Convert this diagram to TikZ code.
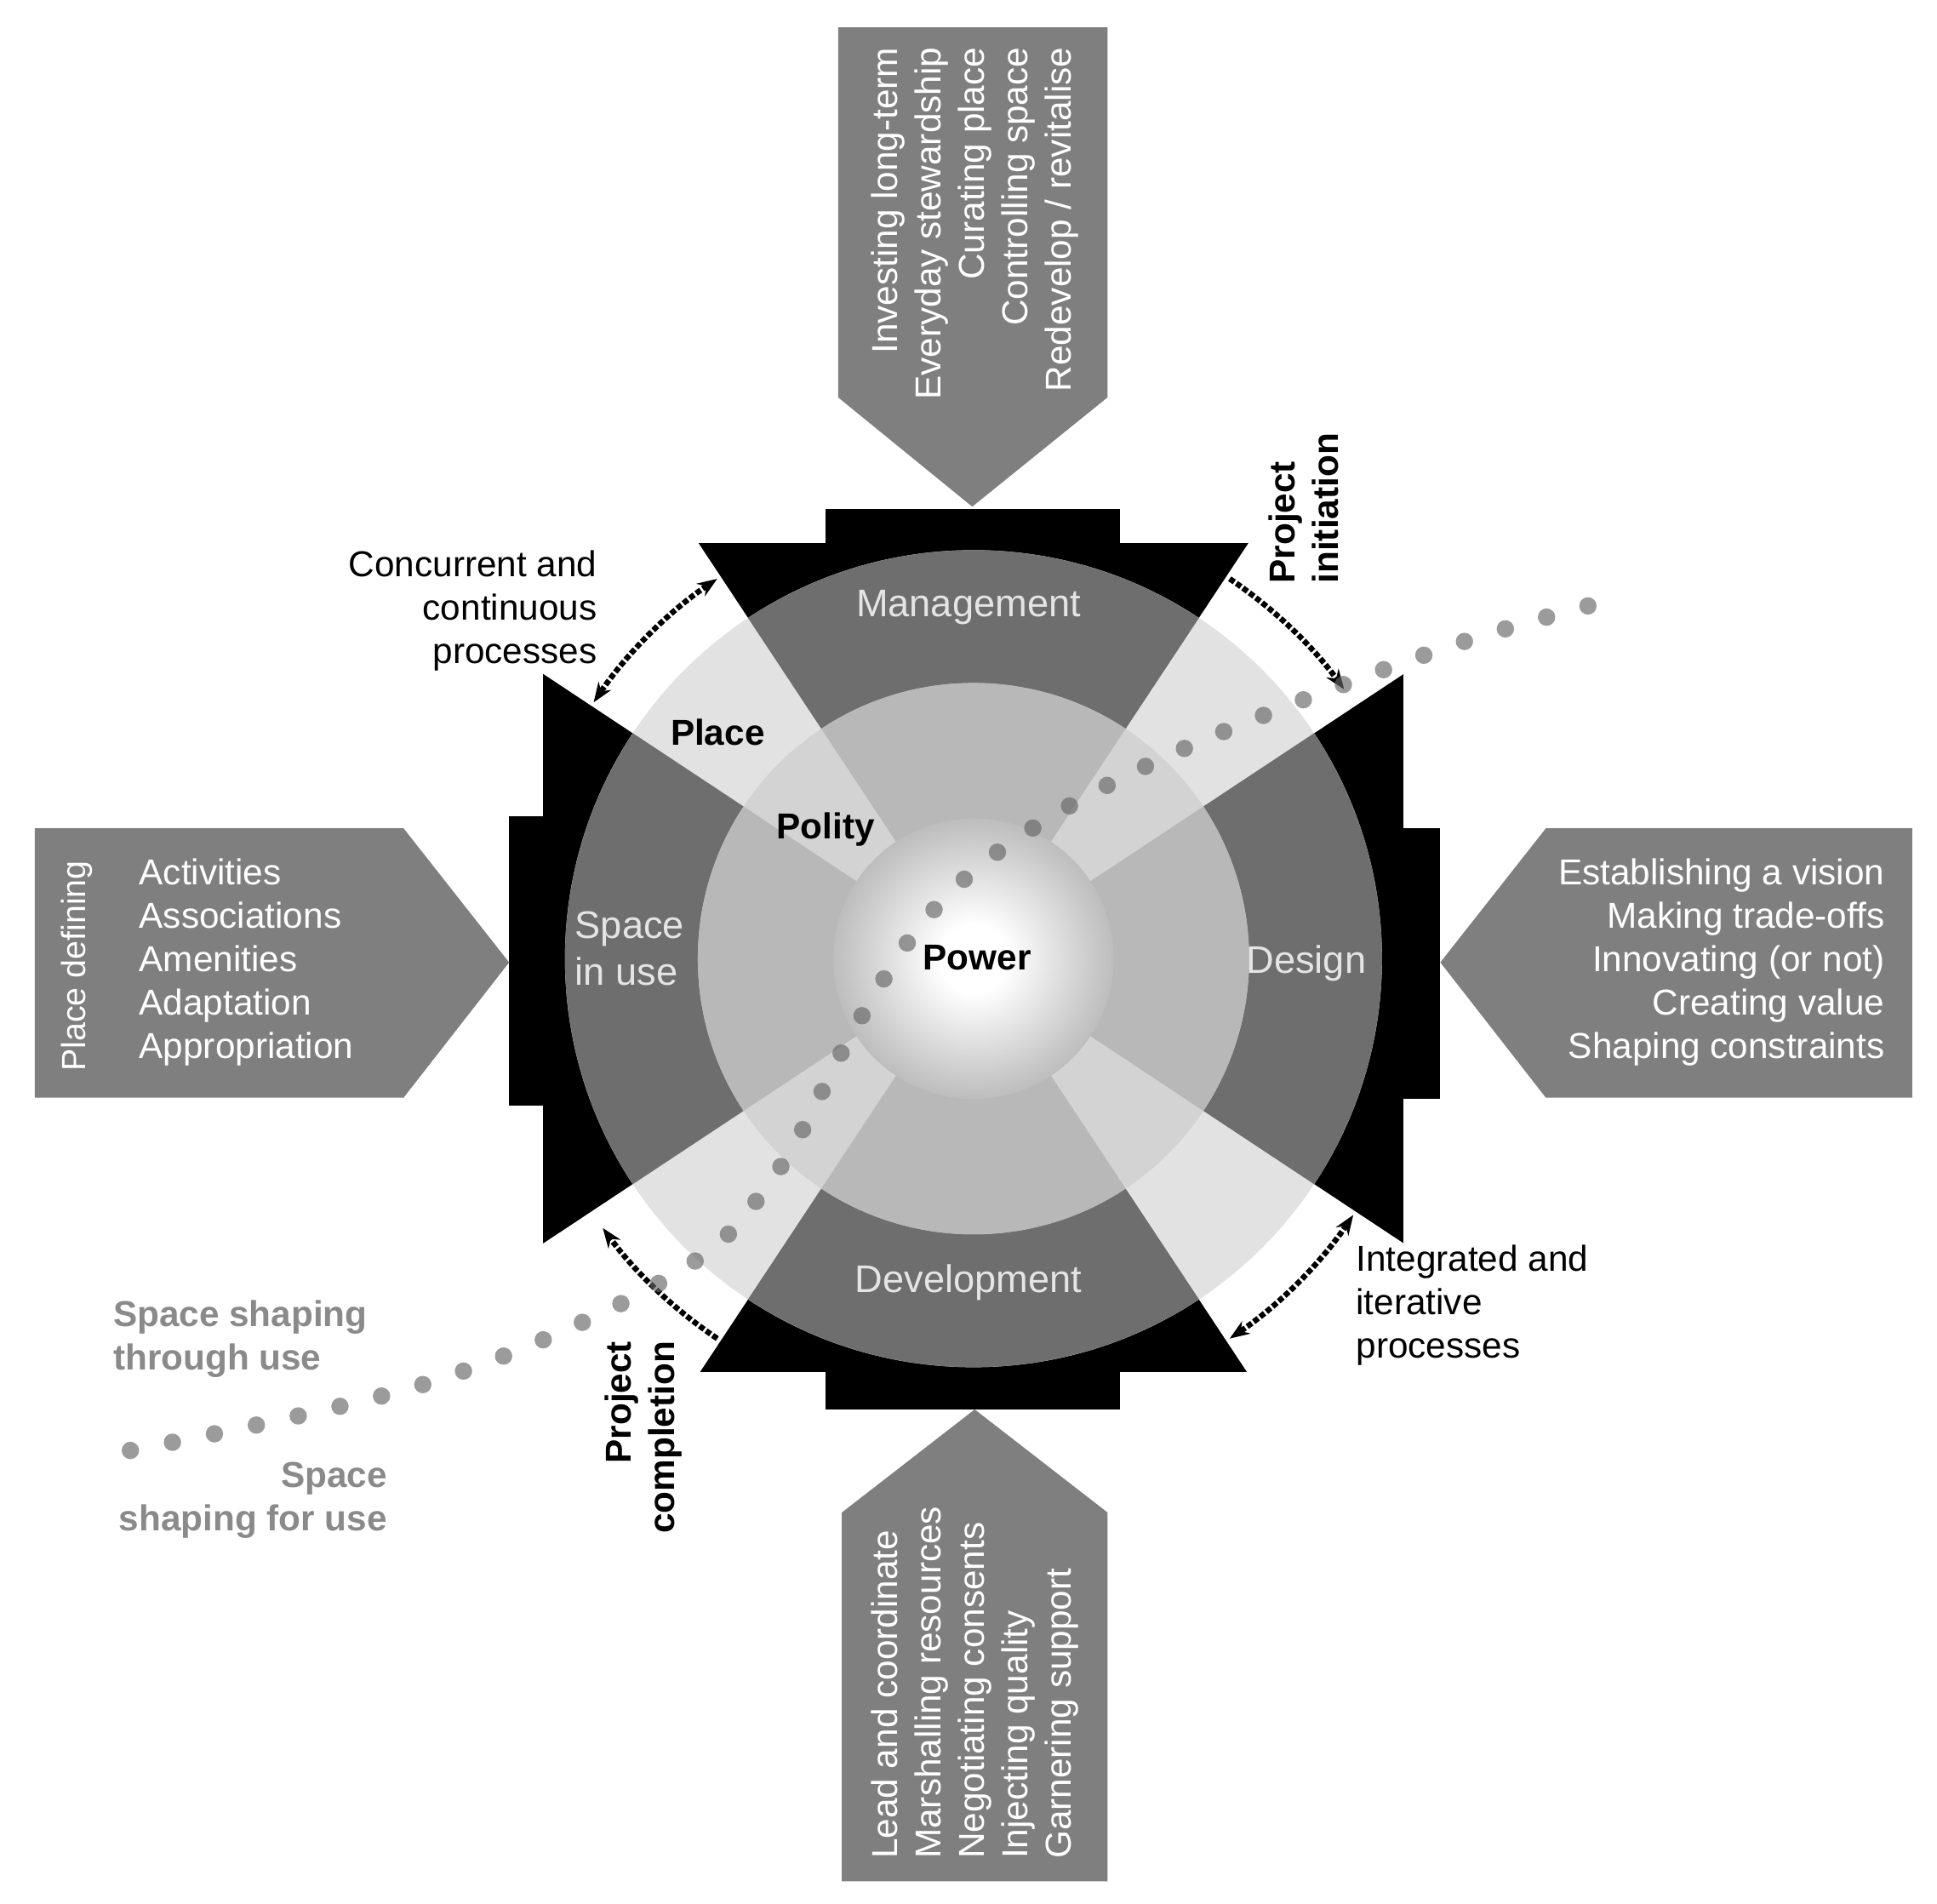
\documentclass[tikz,border=0pt]{standalone}
\usepackage{fontspec}
\setmainfont{Liberation Sans}
\usetikzlibrary{arrows.meta}
\definecolor{panel}{HTML}{7F7F7F}
\definecolor{darksec}{HTML}{6E6E6E}
\definecolor{lightw}{HTML}{E2E2E2}
\definecolor{midsec}{HTML}{B8B8B8}
\definecolor{midw}{HTML}{D3D3D3}
\definecolor{seclab}{HTML}{E4E4E4}
\definecolor{graytxt}{HTML}{8A8A8A}
\pgfdeclareradialshading{sph}{\pgfpoint{0bp}{0bp}}{color(0bp)=(white); color(6bp)=(white); color(22bp)=(black!22); color(40bp)=(black!45); color(50bp)=(black!60)}
\begin{document}
\begin{tikzpicture}[x=1pt,y=-1pt,
  >={Stealth[length=16pt,width=12pt]},
  txt/.style={inner sep=0pt, font=\fontsize{29}{35}\selectfont},
  ptxt/.style={txt, text=white},
  slab/.style={inner sep=0pt, text=seclab, font=\fontsize{31}{38}\selectfont},
  blab/.style={inner sep=0pt, font=\fontsize{29}{35}\selectfont\bfseries},
  gtxt/.style={inner sep=0pt, text=graytxt, font=\fontsize{29}{35}\selectfont\bfseries},
  cyc/.style={line width=4.5pt, dotted, black}]
\useasboundingbox (0,0) rectangle (1560,1533);
\fill[white] (0,0) rectangle (1560,1533);
% black frame
\fill[black] (437,437) rectangle (1130,1105);
\fill[black] (665,410) rectangle (902,437);
\fill[black] (665,1105) rectangle (902,1135);
\fill[black] (410,657) rectangle (437,890);
\fill[black] (1130,667) rectangle (1160,885);
\begin{scope}[shift={(784,772)}]
  \begin{scope}
    \clip (-352,-340) rectangle (352,340);
    \foreach \a in {45,135,225,315}{
      \fill[white] (0,0) -- (\a-11.5:700) arc (\a-11.5:\a+11.5:700) -- cycle;}
  \end{scope}
  \fill[lightw] (0,0) circle (329);
  \foreach \a in {0,90,180,270}{
    \fill[darksec] (0,0) -- (\a-33.5:329) arc (\a-33.5:\a+33.5:329) -- cycle;}
  \fill[midw] (0,0) circle (222);
  \foreach \a in {0,90,180,270}{
    \fill[midsec] (0,0) -- (\a-33.5:222) arc (\a-33.5:\a+33.5:222) -- cycle;}
  \shade[shading=sph] (0,0) circle (113);
  % cycle arrows
  \draw[cyc, <->] (-124:369) arc (-124:-146:369);
  \draw[cyc, ->] (-56:369) arc (-56:-36:369);
  \draw[cyc, <->] (34:369) arc (34:56:369);
  \draw[cyc, ->] (124:369) arc (124:144:369);
\end{scope}
% panels
\fill[panel] (675,22) -- (892,22) -- (892,320) -- (783,408) -- (675,320) -- cycle;
\fill[panel] (678,1515) -- (892,1515) -- (892,1218) -- (785,1135) -- (678,1218) -- cycle;
\fill[panel] (28,667) -- (325,667) -- (410,775) -- (325,884) -- (28,884) -- cycle;
\fill[panel] (1540,667) -- (1245,667) -- (1160,775) -- (1245,884) -- (1540,884) -- cycle;
% panel texts
\node[ptxt, rotate=90, anchor=east, align=right] (mt) at (785,38) {Investing long-term\\Everyday stewardship\\Curating place\\Controlling space\\Redevelop / revitalise};
\node[ptxt, rotate=90, anchor=west, align=left] (dt) at (785,1497) {Lead and coordinate\\Marshalling resources\\Negotiating consents\\Injecting quality\\Garnering support};
\node[ptxt, rotate=90, font=\fontsize{27}{33}\selectfont] (pd) at (62,778) {Place defining};
\node[ptxt, anchor=west, align=left] (lt) at (112,775) {Activities\\Associations\\Amenities\\Adaptation\\Appropriation};
\node[ptxt, anchor=east, align=right] (rt) at (1518,775) {Establishing a vision\\Making trade-offs\\Innovating (or not)\\Creating value\\Shaping constraints};
% sector labels
\node[slab] (mg) at (780,489) {Management};
\node[slab] (de) at (1052,776) {Design};
\node[slab] (dv) at (780,1033) {Development};
\node[slab, anchor=west, align=left] (su) at (463,764) {Space\\in use};
\node[blab] (pl) at (578,590) {Place};
\node[blab] (po) at (665,668) {Polity};
\node[blab] (pw) at (787,771) {Power};
% outer labels
\node[txt, anchor=east, align=right] (cc) at (481,492) {Concurrent and\\continuous\\processes};
\node[txt, anchor=west, align=left] (ii) at (1092,1051) {Integrated and\\iterative\\processes};
\node[blab, rotate=90, anchor=west, align=left] (pi) at (1050,470) {Project\\initiation};
\node[blab, rotate=90, anchor=east, align=right] (pc) at (518,1080) {Project\\completion};
\node[gtxt, anchor=west, align=left] (st) at (91,1078) {Space shaping\\through use};
\node[gtxt, anchor=east, align=right] (sf) at (312,1208) {Space\\shaping for use};
% dotted path
\coordinate (d1) at (105,1168);
\coordinate (d2) at (1298,483);
\draw[black!60, opacity=0.65, line width=14pt, line cap=round, dash pattern=on 0pt off 34.5pt]
  plot[smooth, tension=0.6] coordinates {(105,1168) (350,1112) (545,1025) (625,945) (690,825) (750,735) (830,668) (960,600) (1160,523) (1298,483)};
\end{tikzpicture}
\end{document}
